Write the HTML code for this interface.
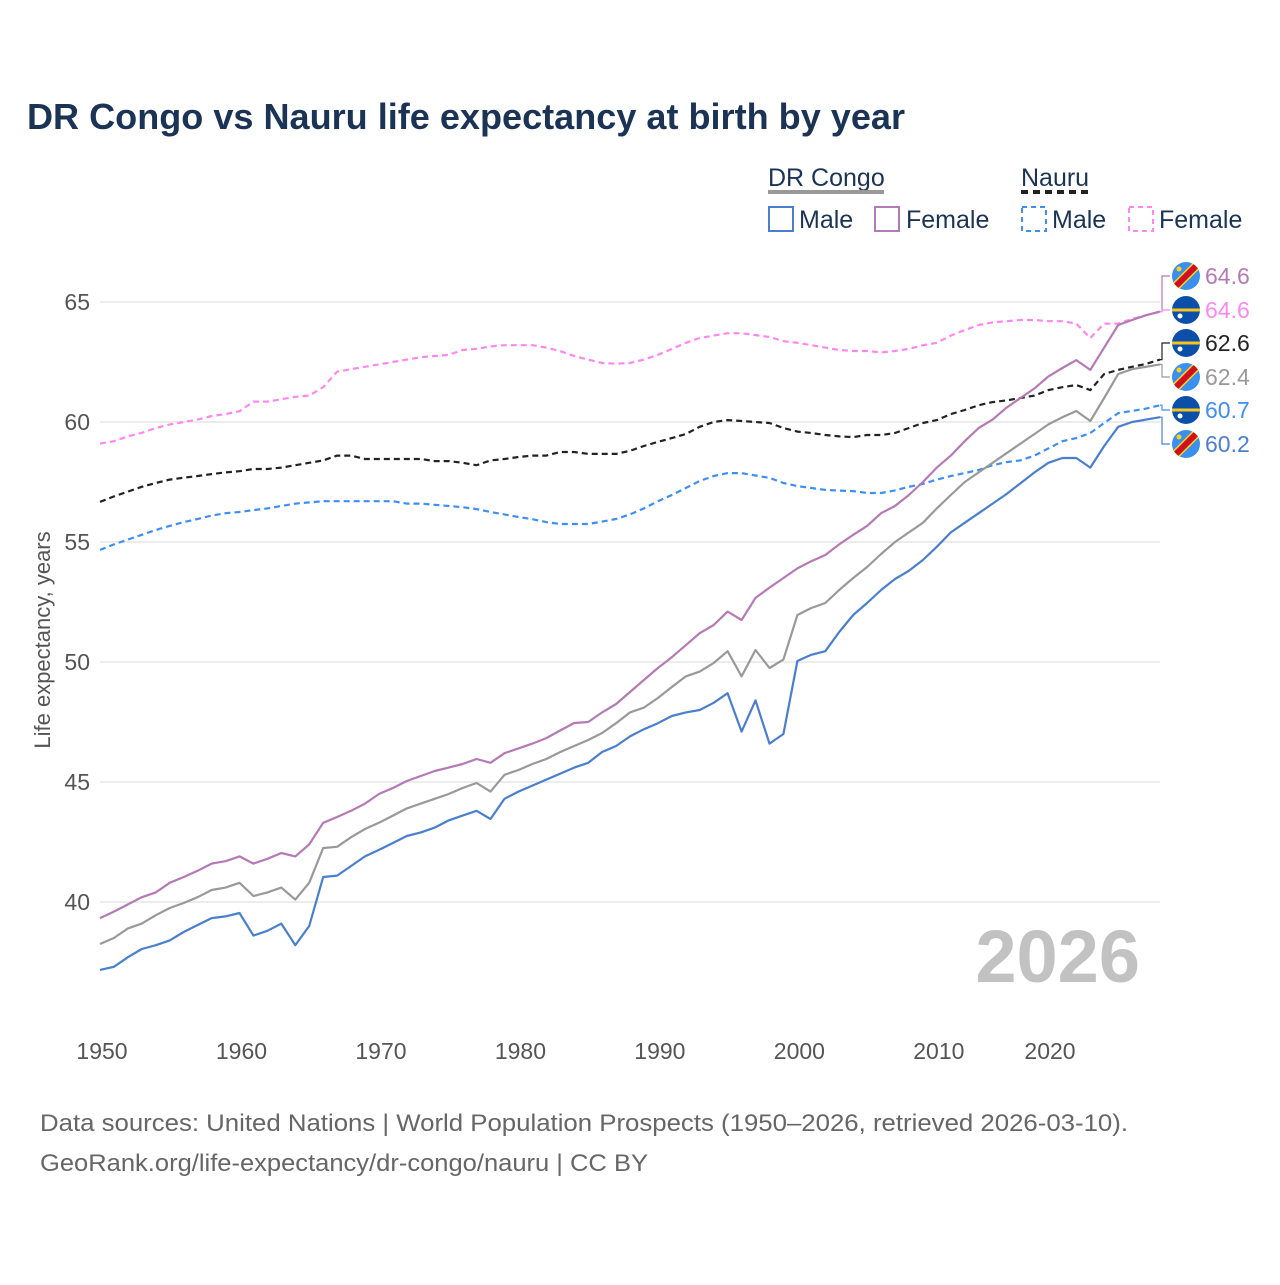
<!DOCTYPE html>
<html><head><meta charset="utf-8">
<style>
body{margin:0;background:#fff;width:1280px;height:1280px;overflow:hidden;font-family:"Liberation Sans",sans-serif;}
svg text{font-family:"Liberation Sans",sans-serif;}
</style></head>
<body>
<svg id="chart" width="1280" height="1280" viewBox="0 0 1280 1280" xmlns="http://www.w3.org/2000/svg">
<text x="27" y="129" font-size="36" font-weight="bold" fill="#1b3355" textLength="878" lengthAdjust="spacingAndGlyphs">DR Congo vs Nauru life expectancy at birth by year</text>
<g fill="#1b3355" font-size="25">
 <text x="768" y="186">DR Congo</text>
 <line x1="768" y1="192" x2="884" y2="192" stroke="#999" stroke-width="4"/>
 <text x="1021" y="186">Nauru</text>
 <line x1="1021" y1="192" x2="1093" y2="192" stroke="#222" stroke-width="4" stroke-dasharray="7,5"/>
 <rect x="769" y="207" width="24" height="24" fill="none" stroke="#4a7fcf" stroke-width="2"/>
 <text x="799" y="228">Male</text>
 <rect x="875" y="207" width="24" height="24" fill="none" stroke="#b57ab5" stroke-width="2"/>
 <text x="906" y="228">Female</text>
 <rect x="1022" y="207" width="24" height="24" fill="none" stroke="#3f8ef5" stroke-width="2" stroke-dasharray="5,4"/>
 <text x="1052" y="228">Male</text>
 <rect x="1129" y="207" width="24" height="24" fill="none" stroke="#ff88f0" stroke-width="2" stroke-dasharray="5,4"/>
 <text x="1159" y="228">Female</text>
</g>
<text transform="translate(50,640) rotate(-90)" text-anchor="middle" font-size="22" fill="#555">Life expectancy, years</text>
<text x="1140" y="982" text-anchor="end" font-size="74" font-weight="bold" fill="#c2c2c2">2026</text>
<g id="grid"></g><g id="axes"></g><g id="series"></g><g id="endlabels"></g>
<text x="40" y="1131" font-size="24" fill="#666" textLength="1088" lengthAdjust="spacingAndGlyphs">Data sources: United Nations | World Population Prospects (1950–2026, retrieved 2026-03-10).</text>
<text x="40" y="1171" font-size="24" fill="#666" textLength="608" lengthAdjust="spacingAndGlyphs">GeoRank.org/life-expectancy/dr-congo/nauru | CC BY</text>
</svg>
<script>
const years=[];for(let y=1950;y<=2026;y++)years.push(y);
const yTicks=[40,45,50,55,60,65];
const xTicks=[1950,1960,1970,1980,1990,2000,2010,2020];
const drcMale=[37.17,37.3,37.7,38.04,38.2,38.4,38.75,39.04,39.33,39.4,39.54,38.6,38.8,39.1,38.2,39.0,41.04,41.1,41.5,41.9,42.17,42.46,42.75,42.9,43.1,43.4,43.6,43.8,43.46,44.3,44.6,44.85,45.1,45.35,45.6,45.8,46.25,46.5,46.9,47.2,47.45,47.75,47.9,48.0,48.3,48.7,47.1,48.4,46.6,47.0,50.04,50.3,50.45,51.25,51.96,52.46,53.0,53.46,53.8,54.25,54.8,55.4,55.8,56.2,56.6,57.0,57.45,57.9,58.3,58.5,58.5,58.1,59.0,59.8,60.0,60.1,60.2];
const drcBoth=[38.25,38.5,38.9,39.1,39.45,39.75,39.96,40.2,40.5,40.6,40.8,40.25,40.4,40.6,40.1,40.8,42.25,42.3,42.7,43.04,43.3,43.6,43.9,44.1,44.3,44.5,44.75,44.96,44.6,45.3,45.5,45.75,45.96,46.25,46.5,46.75,47.04,47.45,47.9,48.1,48.5,48.96,49.4,49.6,49.96,50.45,49.4,50.5,49.75,50.1,51.96,52.25,52.46,53.0,53.5,53.96,54.5,55.0,55.4,55.8,56.4,56.96,57.5,57.9,58.3,58.7,59.1,59.5,59.9,60.2,60.46,60.04,61.0,62.0,62.2,62.3,62.4];
const drcFemale=[39.33,39.6,39.9,40.2,40.4,40.8,41.04,41.3,41.6,41.7,41.9,41.6,41.8,42.04,41.9,42.4,43.3,43.54,43.8,44.1,44.5,44.75,45.04,45.25,45.46,45.6,45.75,45.96,45.8,46.2,46.4,46.6,46.83,47.15,47.46,47.5,47.9,48.25,48.75,49.25,49.75,50.2,50.7,51.2,51.54,52.1,51.75,52.67,53.1,53.5,53.9,54.2,54.46,54.9,55.3,55.67,56.2,56.5,56.96,57.5,58.1,58.6,59.2,59.75,60.1,60.6,61.0,61.4,61.9,62.25,62.58,62.17,63.1,64.04,64.25,64.45,64.6];
const nauruFemale=[59.1,59.2,59.4,59.55,59.75,59.9,60.0,60.1,60.25,60.33,60.45,60.85,60.85,60.95,61.05,61.1,61.45,62.1,62.2,62.3,62.4,62.5,62.6,62.7,62.75,62.8,63.0,63.05,63.15,63.2,63.2,63.2,63.1,62.95,62.75,62.6,62.46,62.43,62.46,62.6,62.8,63.04,63.3,63.5,63.6,63.7,63.7,63.62,63.54,63.37,63.3,63.2,63.1,63.0,62.96,62.96,62.9,62.96,63.05,63.2,63.3,63.6,63.83,64.04,64.15,64.2,64.25,64.25,64.2,64.2,64.1,63.5,64.1,64.1,64.3,64.45,64.6];
const nauruBoth=[56.67,56.9,57.1,57.3,57.46,57.6,57.68,57.75,57.83,57.9,57.95,58.04,58.04,58.1,58.2,58.3,58.4,58.6,58.6,58.46,58.46,58.46,58.46,58.46,58.37,58.37,58.3,58.2,58.4,58.46,58.54,58.6,58.6,58.75,58.75,58.67,58.67,58.67,58.8,59.0,59.17,59.33,59.5,59.8,60.0,60.08,60.04,60.0,59.96,59.75,59.6,59.54,59.46,59.4,59.37,59.46,59.46,59.54,59.75,59.96,60.08,60.33,60.5,60.7,60.83,60.9,61.0,61.1,61.33,61.45,61.54,61.33,62.0,62.17,62.3,62.42,62.6];
const nauruMale=[54.67,54.9,55.1,55.3,55.5,55.67,55.83,55.96,56.1,56.2,56.25,56.33,56.4,56.5,56.6,56.65,56.7,56.7,56.7,56.7,56.7,56.7,56.6,56.6,56.55,56.5,56.45,56.37,56.25,56.15,56.04,55.95,55.83,55.75,55.75,55.75,55.85,55.96,56.15,56.4,56.7,56.96,57.25,57.54,57.75,57.87,57.87,57.77,57.67,57.46,57.33,57.25,57.17,57.14,57.12,57.04,57.04,57.15,57.3,57.42,57.6,57.75,57.87,58.0,58.2,58.33,58.4,58.6,58.9,59.2,59.33,59.54,59.96,60.37,60.46,60.56,60.7];
const NS="http://www.w3.org/2000/svg";
const x=v=>100+(v-1950)*(1060/76);
const y=v=>302+(65-v)*24;
function mk(tag,attrs,parent){const e=document.createElementNS(NS,tag);for(const k in attrs)e.setAttribute(k,attrs[k]);parent.appendChild(e);return e;}
const grid=document.getElementById('grid'),axes=document.getElementById('axes'),ser=document.getElementById('series'),endl=document.getElementById('endlabels');
yTicks.forEach(t=>{
 const l=mk('line',{x1:100,x2:1160,y1:y(t),y2:y(t),stroke:'#e6e6e6','stroke-width':1.5},grid);
 
 
 const tx=mk('text',{x:90,y:y(t)+8,'text-anchor':'end','font-size':23,fill:'#555'},axes);
 tx.textContent=t;
 
 
});
xTicks.forEach(t=>{
 const px=t===2020?1050:x(t)+2;
 const tx=mk('text',{x:px,y:1059,'text-anchor':'middle','font-size':23,fill:'#555'},axes);
 tx.textContent=t;
 
 
});
const series=[
 {d:nauruFemale,c:'#ff88f0',dash:'6,4',n:'nauru-female-line'},
 {d:nauruBoth,c:'#222',dash:'6,4',n:'nauru-both-line'},
 {d:nauruMale,c:'#3f8ef5',dash:'6,4',n:'nauru-male-line'},
 {d:drcBoth,c:'#999',dash:'',n:'drc-both-line'},
 {d:drcFemale,c:'#b57ab5',dash:'',n:'drc-female-line'},
 {d:drcMale,c:'#4a7fcf',dash:'',n:'drc-male-line'}];
series.forEach(s=>{
 const pts=s.d.map((v,i)=>x(years[i]).toFixed(1)+','+y(v).toFixed(1)).join(' ');
 const p=mk('polyline',{points:pts,fill:'none',stroke:s.c,'stroke-width':2.2,'stroke-linejoin':'round'},ser);
 if(s.dash)p.setAttribute('stroke-dasharray',s.dash);
 
 
});
const labels=[
 {d:drcFemale,c:'#b57ab5',f:'drc',ly:276},
 {d:nauruFemale,c:'#ff88f0',f:'nauru',ly:310},
 {d:nauruBoth,c:'#222',f:'nauru',ly:343},
 {d:drcBoth,c:'#999',f:'drc',ly:377},
 {d:nauruMale,c:'#3f8ef5',f:'nauru',ly:410},
 {d:drcMale,c:'#4a7fcf',f:'drc',ly:444}];
labels.forEach((L,i)=>{
 const v=L.d[L.d.length-1],ey=y(v);
 const g=mk('g',{},endl);
 
 
 mk('polyline',{points:`1160,${ey} 1162,${ey} 1162,${L.ly} 1170,${L.ly}`,fill:'none',stroke:L.c,'stroke-width':1.2},g);
 const cx=1186,cy=L.ly,r=14;
 const cp='cp'+i;
 const cl=mk('clipPath',{id:cp},g);mk('circle',{cx,cy,r},cl);
 const fg=mk('g',{'clip-path':`url(#${cp})`},g);
 if(L.f==='drc'){
  mk('rect',{x:cx-r,y:cy-r,width:2*r,height:2*r,fill:'#3a8ff0'},fg);
  mk('line',{x1:cx-r,y1:cy+r,x2:cx+r,y2:cy-r,stroke:'#f7d518','stroke-width':9},fg);
  mk('line',{x1:cx-r,y1:cy+r,x2:cx+r,y2:cy-r,stroke:'#ce1021','stroke-width':6},fg);
  mk('circle',{cx:cx-7,cy:cy-7,r:2.5,fill:'#f7d518'},fg);
 }else{
  mk('rect',{x:cx-r,y:cy-r,width:2*r,height:2*r,fill:'#0b4fa8'},fg);
  mk('rect',{x:cx-r,y:cy-1.5,width:2*r,height:3,fill:'#f9c320'},fg);
  mk('circle',{cx:cx-6,cy:cy+6,r:2.5,fill:'#fff'},fg);
 }
 const t=mk('text',{x:1205,y:L.ly+8,'font-size':23,fill:L.c},g);
 t.textContent=v.toFixed(1);
});
</script>
</body></html>
